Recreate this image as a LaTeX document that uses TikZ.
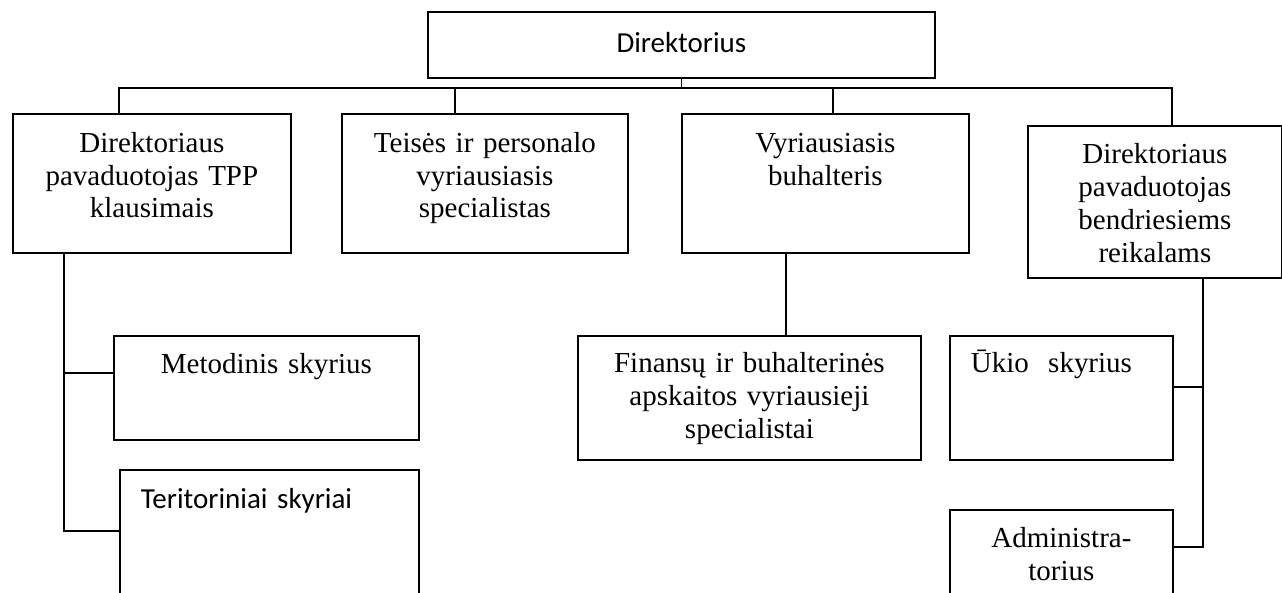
\documentclass[tikz,border=0pt]{standalone}
\usepackage{fontspec}
\setmainfont{Liberation Serif}
\newfontfamily\calfont{Carlito}
\begin{document}
\begin{tikzpicture}[x=0.5pt,y=-0.5pt,
  box/.style={draw, line width=0.9pt, inner sep=0pt, anchor=north west, align=center,
    font=\fontsize{14.5}{16.25}\selectfont},
  lbox/.style={box, align=left, inner xsep=10.5pt},
  link/.style={line width=0.9pt}]
\useasboundingbox (0,0) rectangle (1282,593);
\clip (0,0) rectangle (1282,593);

% boxes
\node[box, text width=253.5pt, text height=20.5pt, text depth=12.5pt,
  font=\calfont\fontsize{14.5}{17}\selectfont] (dir) at (427,11) {Direktorius};
\node[box, text width=139pt, text height=19.5pt, text depth=50pt] (b1) at (12,113)
  {Direktoriaus\\pavaduotojas TPP\\klausimais};
\node[box, text width=143pt, text height=19.5pt, text depth=50pt] (b2) at (341,113)
  {Teisės ir personalo\\vyriausiasis\\specialistas};
\node[box, text width=143.5pt, text height=19.5pt, text depth=50pt] (b3) at (681,113)
  {Vyriausiasis\\buhalteris};
\node[box, text width=127pt, text height=19pt, text depth=57pt,
  font=\fontsize{14.5}{16.5}\selectfont] (b4) at (1027,125)
  {Direktoriaus\\pavaduotojas\\bendriesiems\\reikalams};
\node[box, text width=171.5pt, text height=18.5pt, text depth=43.5pt,
  font=\fontsize{14.5}{16.5}\selectfont] (fin) at (577,335)
  {Finansų ir buhalterinės\\apskaitos vyriausieji\\specialistai};
\node[box, text width=152.5pt, text height=19pt, text depth=33pt] (met) at (113,335)
  {Metodinis skyrius};
\node[lbox, text width=90.5pt, text height=18.5pt, text depth=43.5pt] (uk) at (949,335)
  {Ūkio\ \ skyrius};
\node[lbox, text width=128.5pt, text height=19.5pt, text depth=56pt,
  font=\calfont\fontsize{14.5}{17}\selectfont] (ter) at (119,469)
  {Teritoriniai skyriai};
\node[box, text width=111.5pt, text height=19pt, text depth=36.5pt,
  font=\fontsize{14.5}{16.5}\selectfont] (adm) at (949,509)
  {Administra-\\torius};

% junction coordinates
\coordinate (j1) at (119,88);
\coordinate (j2) at (455,88);
\coordinate (j3) at (833,88);
\coordinate (j4) at (1172,88);
\coordinate (f1) at (786,300);
\coordinate (m1) at (64,373);
\coordinate (m2) at (64,531);
\coordinate (r2) at (1203,387);
\coordinate (r3) at (1203,547);

% connectors
\draw[link] (dir.south) -- (dir.south |- j1);
\draw[link] (j1 |- b1.north) -- (j1) -- (j4) -- (j4 |- b4.north);
\draw[link] (j2) -- (j2 |- b2.north);
\draw[link] (j3) -- (j3 |- b3.north);
\draw[link] (f1 |- b3.south) -- (f1 |- fin.north);
\draw[link] (m1 |- b1.south) -- (m2) -- (m2 -| ter.west);
\draw[link] (m1) -- (m1 -| met.west);
\draw[link] (r2 |- b4.south) -- (r3) -- (r3 -| adm.east);
\draw[link] (r2) -- (r2 -| uk.east);
\end{tikzpicture}
\end{document}
